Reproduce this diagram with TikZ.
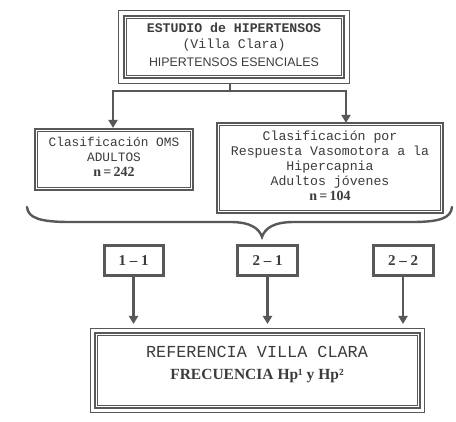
\documentclass[tikz,border=0pt]{standalone}
\usepackage{fontspec}
\setmainfont{Liberation Serif}
\newfontfamily\monofnt{Liberation Mono}
\newfontfamily\sansfnt{Liberation Sans}
\usetikzlibrary{calc,arrows.meta}
\definecolor{linec}{RGB}{88,88,88}
\definecolor{textc}{RGB}{60,60,60}
\tikzset{
  box/.style={draw=linec, fill=white, inner sep=0pt, align=center, text=textc},
  thickbox/.style={box, line width=2.2pt},
  smallbox/.style={box, line width=3pt},
  thinline/.style={draw=linec, line width=0.9pt},
  conn/.style={draw=linec, line width=2.6pt},
  arr/.style={conn, -{Triangle[width=9pt,length=8pt]}},
  brace/.style={draw=linec, line width=2.4pt, line cap=round},
  txt/.style={text=textc, align=center, inner sep=0pt},
}
\begin{document}
\begin{tikzpicture}[x=1pt,y=-1pt]
\useasboundingbox (0,0) rectangle (456,422);
% top box
\node[thickbox, minimum width=220pt, minimum height=62pt] (top) at (234,47) {};
\draw[thinline] ($(top.south west)+(-4,4)$) rectangle ($(top.north east)+(4,-4)$);
\draw[thinline] ($(top.south west)+(4,-4)$) rectangle ($(top.north east)+(-4,4)$);
\node[txt, font=\fontsize{13.2}{15.5}\selectfont] (toptxt) at (234,45) {%
  {\monofnt\bfseries ESTUDIO de HIPERTENSOS}\\
  {\monofnt (Villa Clara)}\\[2.5pt]
  {\sansfnt\fontsize{12.4}{15}\selectfont HIPERTENSOS ESENCIALES}};
% left box
\node[thickbox, minimum width=158pt, minimum height=61pt] (left) at (114,159.5) {};
\draw[thinline] ($(left.south west)+(4,-4)$) rectangle ($(left.north east)+(-4,4)$);
\node[txt, font=\fontsize{12.8}{15}\selectfont] (lefttxt) at (114,157) {%
  {\monofnt Clasificación OMS}\\
  {\monofnt ADULTOS}\\
  {\bfseries\fontsize{14}{15}\selectfont n\,=\,242}};
% right box
\node[thickbox, minimum width=226pt, minimum height=90pt] (right) at (330,168) {};
\draw[thinline] ($(right.south west)+(4,-4)$) rectangle ($(right.north east)+(-4,4)$);
\node[txt, font=\fontsize{13.2}{15}\selectfont] (righttxt) at (330,166) {%
  {\monofnt Clasificación por}\\
  {\monofnt Respuesta Vasomotora a la}\\
  {\monofnt Hipercapnia}\\
  {\monofnt Adultos jóvenes}\\
  {\bfseries\fontsize{14}{15}\selectfont n\,=\,104}};
% connectors from top
\coordinate (jL) at (113,91);
\coordinate (jR) at (346,91);
\coordinate (jT) at (230,91);
\draw[conn] ($(top.south)+(-4,4)$) -- (jT);
\draw[conn, line cap=rect] (jL) -- (jR);
\draw[arr] (jL) -- (jL |- left.north);
\draw[arr] (jR) -- ($(jR |- right.north)+(0,1)$);
% brace
\draw[brace] (27,207) .. controls (28,218) and (40,222) .. (70,222)
  -- (230,222) .. controls (250,222) and (259,228) .. (262,237)
  .. controls (265,228) and (274,222) .. (294,222)
  -- (412,222) .. controls (440,222) and (451,218) .. (452,207);
% small boxes
\node[smallbox, minimum width=59pt, minimum height=30pt, font=\bfseries\fontsize{15}{16}\selectfont] (s11) at (133.5,261) {1 -- 1};
\node[smallbox, minimum width=60pt, minimum height=30pt, font=\bfseries\fontsize{15}{16}\selectfont] (s21) at (267.5,261) {2 -- 1};
\node[smallbox, minimum width=60pt, minimum height=30pt, font=\bfseries\fontsize{15}{16}\selectfont] (s22) at (403,261) {2 -- 2};
% bottom box
\node[thickbox, minimum width=325pt, minimum height=75pt] (bot) at (257.5,370.5) {};
\draw[thinline] ($(bot.south west)+(-3.5,3.5)$) rectangle ($(bot.north east)+(3.5,-3.5)$);
\draw[thinline] ($(bot.south west)+(3.5,-3.5)$) rectangle ($(bot.north east)+(-3.5,3.5)$);
\node[txt] (bottxt1) at (257,352) {\monofnt\fontsize{16.8}{18}\selectfont REFERENCIA VILLA CLARA};
\node[txt] (bottxt2) at (257,376) {\bfseries\fontsize{15.5}{17}\selectfont FRECUENCIA Hp¹ y Hp²};
% arrows down
\coordinate (e) at (0,324);
\draw[arr] (s11.south) -- (s11.south |- e);
\draw[arr] (s21.south) -- (s21.south |- e);
\draw[arr] (s22.south) -- (s22.south |- e);
\end{tikzpicture}
\end{document}
